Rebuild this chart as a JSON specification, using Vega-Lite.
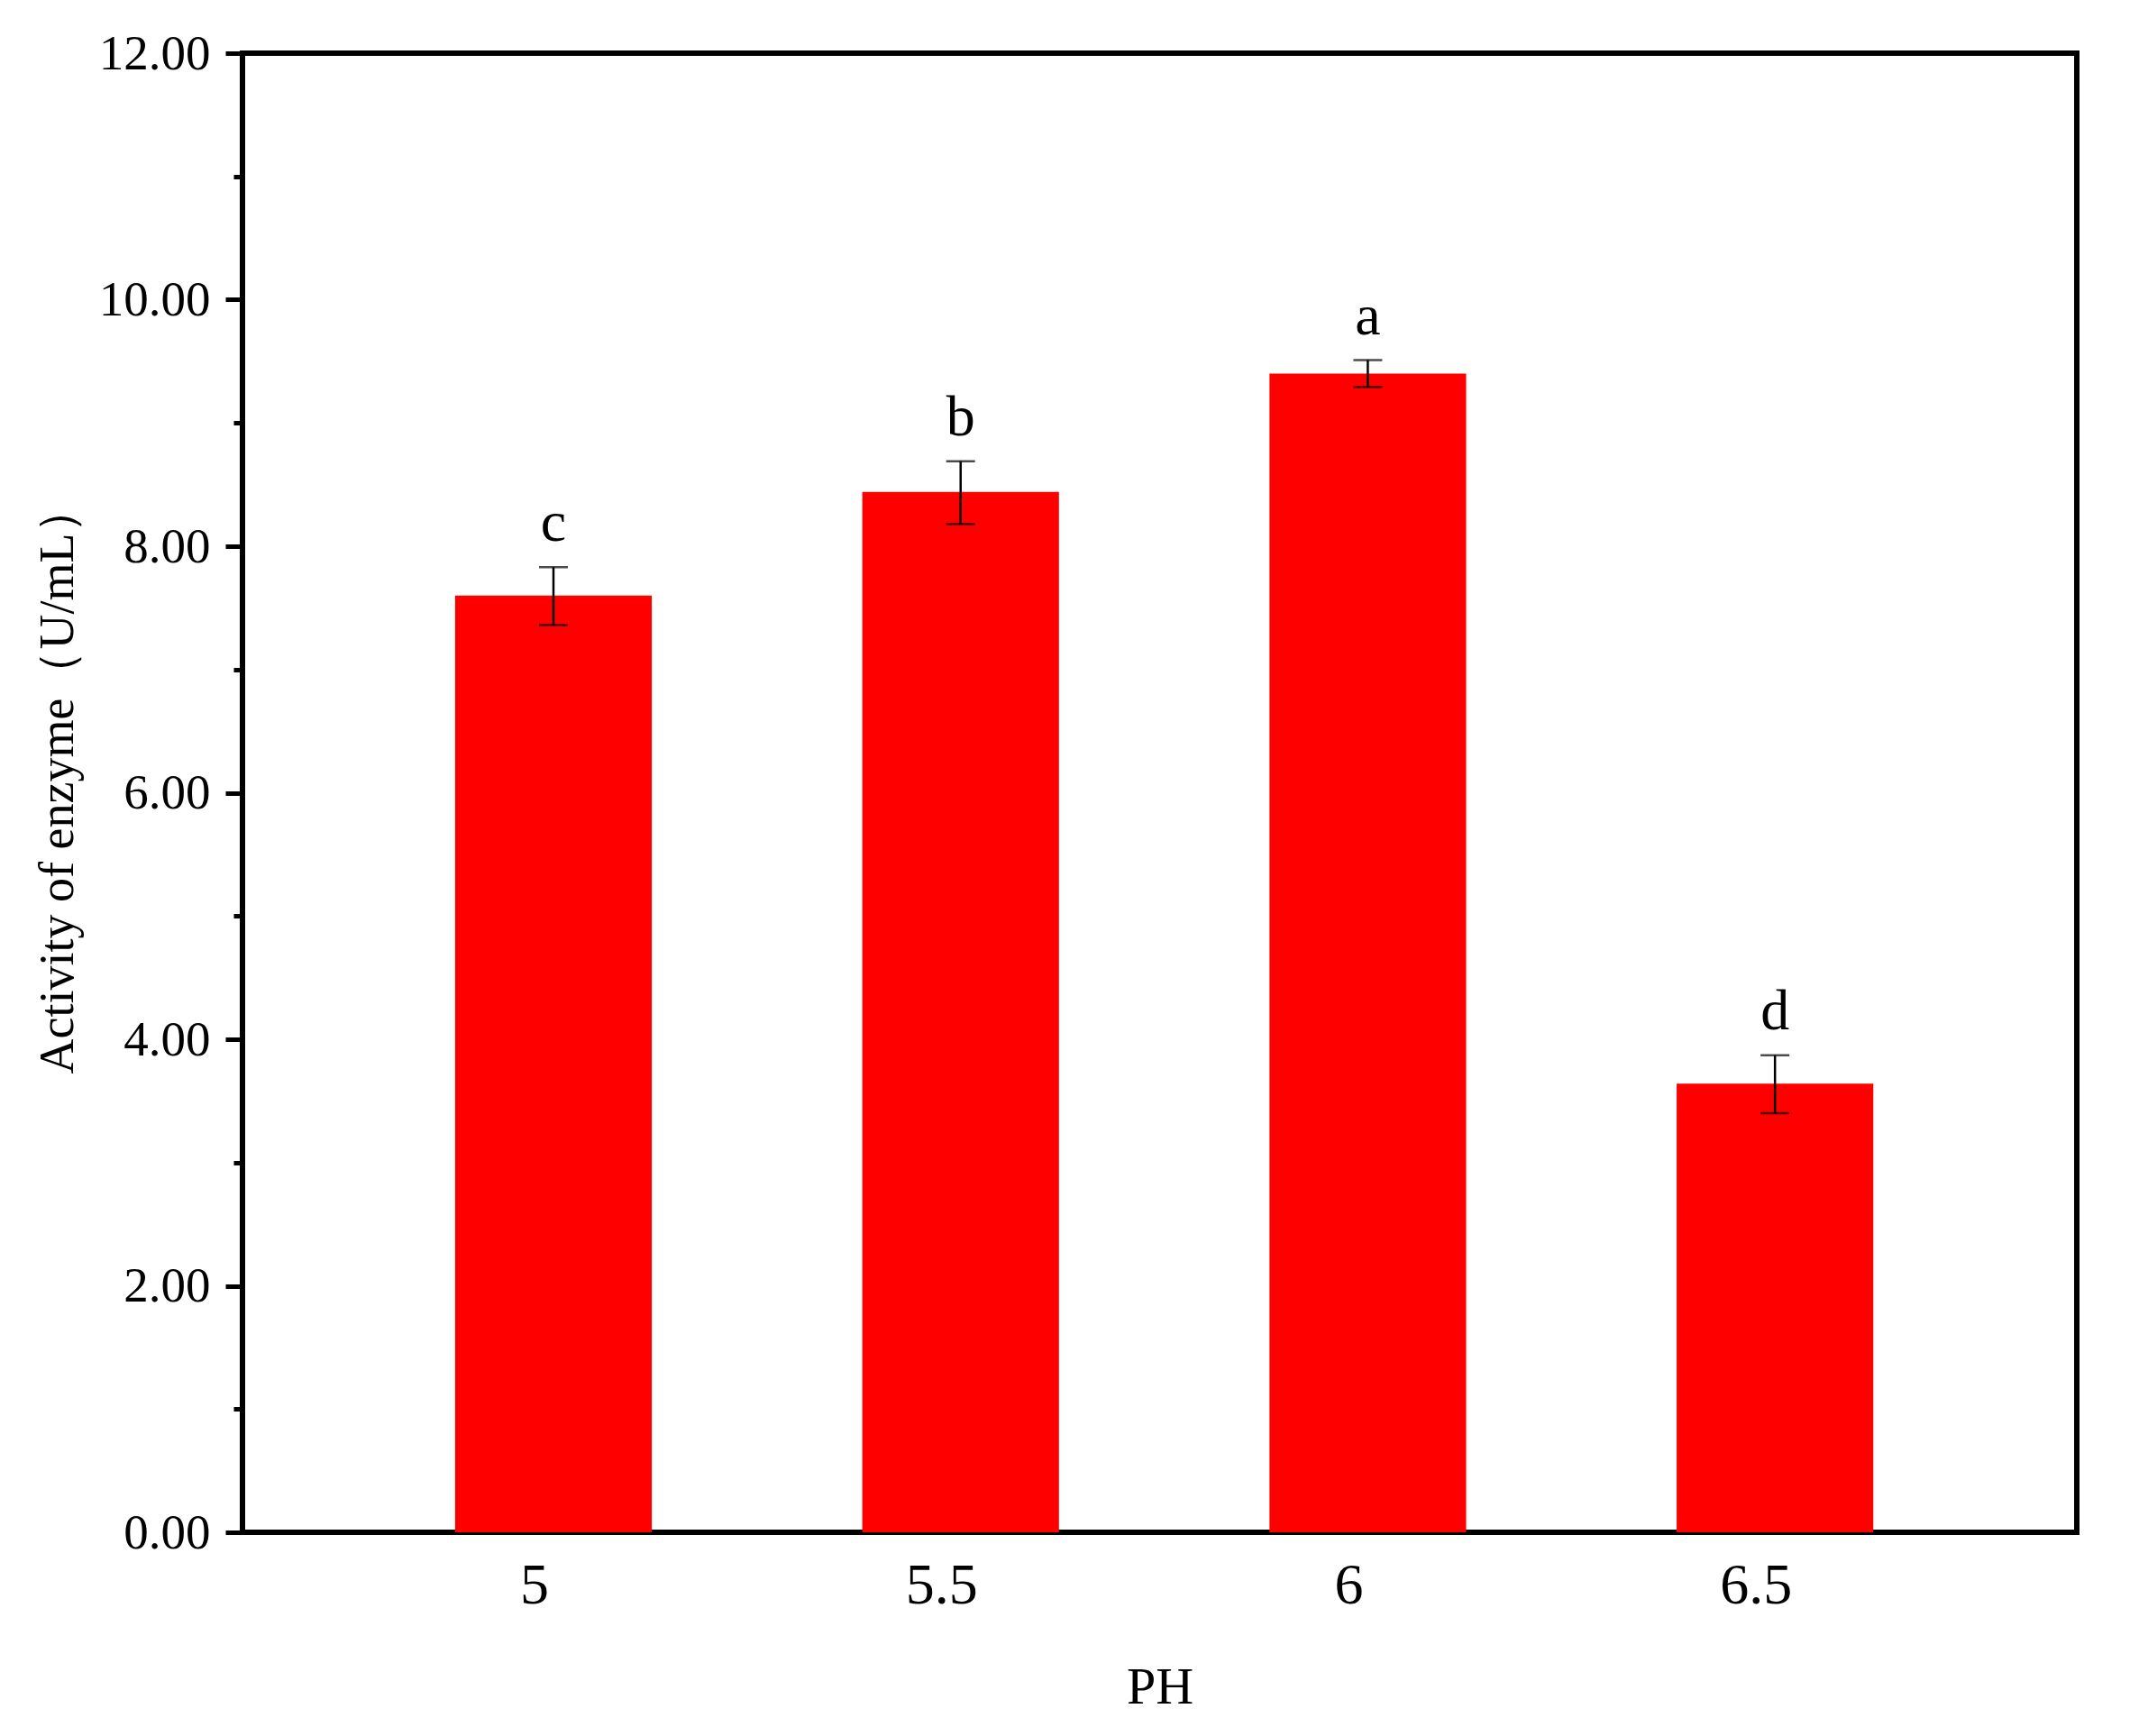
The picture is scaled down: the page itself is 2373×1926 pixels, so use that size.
{
  "$schema": "https://vega.github.io/schema/vega-lite/v6.json",
  "width": 2035,
  "height": 1641,
  "autosize": {"type": "none"},
  "padding": {"left": 269, "top": 59, "right": 69, "bottom": 226},
  "background": "white",
  "config": {
    "view": {"stroke": "black", "strokeWidth": 6},
    "font": "Liberation Serif",
    "axis": {"labelFont": "Liberation Serif", "titleFont": "Liberation Serif", "labelColor": "black", "titleColor": "black", "titleFontWeight": "normal", "grid": false, "domain": false}
  },
  "data": {
    "values": [
      {"ph": "5", "value": 7.60, "lo": 7.36, "hi": 7.83, "sig": "c"},
      {"ph": "5.5", "value": 8.44, "lo": 8.18, "hi": 8.69, "sig": "b"},
      {"ph": "6", "value": 9.40, "lo": 9.29, "hi": 9.51, "sig": "a"},
      {"ph": "6.5", "value": 3.64, "lo": 3.40, "hi": 3.87, "sig": "d"}
    ]
  },
  "encoding": {
    "x": {
      "field": "ph",
      "type": "ordinal",
      "sort": null,
      "scale": {"paddingInner": 0.517, "paddingOuter": 0.511, "align": 0.511},
      "axis": {
        "title": "PH",
        "labelAngle": 0,
        "labelFontSize": 64,
        "titleFontSize": 58,
        "ticks": false,
        "labelPadding": 27,
        "labelOffset": -21,
        "titlePadding": 52
      }
    }
  },
  "layer": [
    {
      "mark": {"type": "bar", "color": "#FF0000"},
      "encoding": {
        "y": {
          "field": "value",
          "type": "quantitative",
          "scale": {"domain": [0, 12], "nice": false, "zero": true},
          "axis": {
            "title": "Activity of enzyme（U/mL）",
            "values": [0, 2, 4, 6, 8, 10, 12],
            "format": ".2f",
            "labelFontSize": 55,
            "titleFontSize": 54,
            "titleY": 805,
            "tickSize": 19,
            "tickWidth": 5,
            "tickColor": "black",
            "labelPadding": 17,
            "titlePadding": 18
          }
        }
      }
    },
    {
      "mark": {"type": "rule", "color": "black", "strokeWidth": 2.5},
      "encoding": {
        "y": {
          "field": "lo",
          "type": "quantitative",
          "scale": {"domain": [0, 12], "nice": false},
          "axis": {
            "orient": "left",
            "title": null,
            "values": [1, 3, 5, 7, 9, 11],
            "labels": false,
            "tickSize": 10,
            "tickWidth": 5,
            "tickColor": "black"
          }
        },
        "y2": {"field": "hi"}
      }
    },
    {
      "mark": {"type": "tick", "color": "black", "thickness": 2.5, "size": 32},
      "encoding": {"y": {"field": "lo", "type": "quantitative", "axis": null}}
    },
    {
      "mark": {"type": "tick", "color": "black", "thickness": 2.5, "size": 32},
      "encoding": {"y": {"field": "hi", "type": "quantitative", "axis": null}}
    },
    {
      "mark": {"type": "text", "fontSize": 64, "font": "Liberation Serif", "color": "black", "baseline": "alphabetic", "dy": -29},
      "encoding": {
        "y": {"field": "hi", "type": "quantitative", "axis": null},
        "text": {"field": "sig"}
      }
    }
  ],
  "resolve": {"axis": {"y": "independent"}}
}
